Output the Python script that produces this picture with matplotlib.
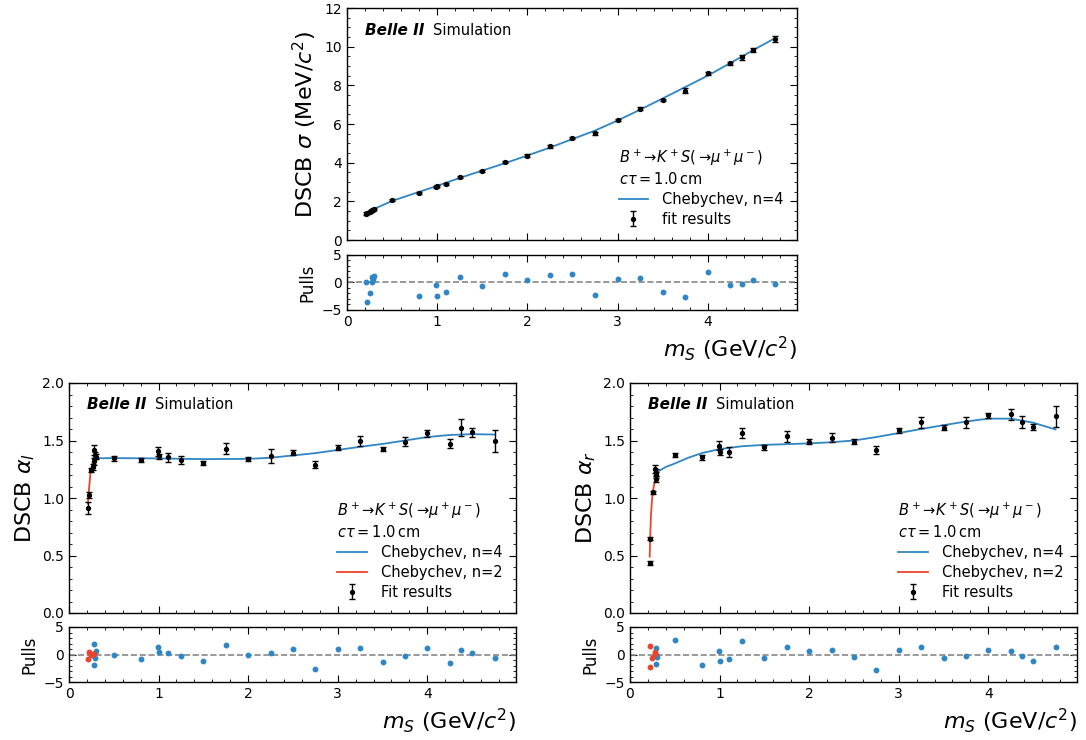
import matplotlib
matplotlib.use("Agg")
import matplotlib.pyplot as plt
from matplotlib.ticker import MultipleLocator

BLUE = "#2f86c4"
RED = "#e8442e"

# ---- DSCB sigma vs m_S ----
sig_m = [0.213, 0.22, 0.25, 0.27, 0.28, 0.29, 0.30, 0.50, 0.80, 0.99, 1.00, 1.10,
         1.25, 1.50, 1.75, 2.00, 2.25, 2.50, 2.75, 3.00, 3.25, 3.50, 3.75, 4.00,
         4.25, 4.375, 4.50, 4.75]
sig_v = [1.37, 1.39, 1.46, 1.51, 1.55, 1.57, 1.59, 2.06, 2.45, 2.74, 2.77, 2.92,
         3.25, 3.58, 4.02, 4.37, 4.84, 5.28, 5.53, 6.22, 6.80, 7.24, 7.72, 8.62,
         9.14, 9.46, 9.83, 10.40]
sig_e = [0.06, 0.05, 0.05, 0.05, 0.05, 0.05, 0.05, 0.05, 0.05, 0.05, 0.05, 0.05,
         0.05, 0.05, 0.05, 0.06, 0.06, 0.06, 0.08, 0.06, 0.06, 0.07, 0.12, 0.07,
         0.09, 0.13, 0.08, 0.15]
sig_fit_m = [0.21, 0.30, 0.50, 0.80, 1.00, 1.25, 1.50, 1.75, 2.00, 2.25, 2.50,
             2.75, 3.00, 3.25, 3.50, 3.75, 4.00, 4.25, 4.50, 4.75]
sig_fit_v = [1.40, 1.61, 2.02, 2.49, 2.80, 3.21, 3.59, 3.97, 4.37, 4.78, 5.22,
             5.66, 6.18, 6.74, 7.32, 7.91, 8.50, 9.15, 9.81, 10.45]
sig_pull_m = [0.213, 0.22, 0.25, 0.28, 0.28, 0.29, 0.30, 0.80, 0.99, 1.00, 1.10,
              1.25, 1.50, 1.75, 2.00, 2.25, 2.50, 2.75, 3.00, 3.25, 3.50, 3.75,
              4.00, 4.25, 4.375, 4.50, 4.75]
sig_pull = [0.0, -3.5, -2.0, 0.0, 1.05, 0.6, 1.1, -2.4, -0.5, -2.5, -1.8, 1.05,
            -0.6, 1.6, 0.5, 1.4, 1.6, -2.25, 0.55, 0.9, -1.7, -2.6, 1.9, -0.4,
            -0.2, 0.5, -0.2]

# ---- DSCB alpha_l vs m_S ----
al_m = [0.212, 0.22, 0.246, 0.27, 0.28, 0.28, 0.29, 0.30, 0.50, 0.80, 0.99, 1.00,
        1.10, 1.25, 1.50, 1.75, 2.00, 2.25, 2.50, 2.75, 3.00, 3.25, 3.50, 3.75,
        4.00, 4.25, 4.375, 4.50, 4.75]
al_v = [0.913, 1.023, 1.243, 1.27, 1.32, 1.42, 1.37, 1.36, 1.344, 1.327, 1.405,
        1.361, 1.353, 1.33, 1.303, 1.43, 1.34, 1.366, 1.395, 1.288, 1.439, 1.494,
        1.427, 1.488, 1.564, 1.471, 1.613, 1.57, 1.494]
al_e = [0.05, 0.025, 0.02, 0.03, 0.03, 0.045, 0.03, 0.025, 0.02, 0.017, 0.04,
        0.02, 0.04, 0.035, 0.02, 0.05, 0.02, 0.058, 0.02, 0.03, 0.02, 0.045, 0.02,
        0.04, 0.03, 0.04, 0.07, 0.04, 0.095]
al_fit4_m = [0.27, 0.50, 1.00, 1.50, 2.00, 2.25, 2.50, 2.75, 3.00, 3.25, 3.50,
             3.75, 4.00, 4.25, 4.50, 4.75]
al_fit4_v = [1.345, 1.347, 1.344, 1.338, 1.34, 1.35, 1.37, 1.39, 1.418, 1.445,
             1.47, 1.50, 1.53, 1.548, 1.555, 1.552]
al_fit2_m = [0.212, 0.22, 0.24, 0.25, 0.265, 0.28]
al_fit2_v = [0.95, 1.05, 1.22, 1.26, 1.31, 1.34]
al_pull2_m = [0.212, 0.22, 0.25, 0.27, 0.28]
al_pull2 = [-0.8, 0.37, -0.1, 0.05, 0.1]
al_pull4_m = [0.28, 0.28, 0.29, 0.30, 0.50, 0.80, 0.99, 1.00, 1.10, 1.25, 1.50,
              1.75, 2.00, 2.25, 2.50, 2.75, 3.00, 3.25, 3.50, 3.75, 4.00, 4.25,
              4.375, 4.50, 4.75]
al_pull4 = [1.9, -1.85, -0.6, 0.67, -0.1, -0.9, 1.4, 0.5, 0.2, -0.25, -1.2, 1.65,
            0.0, 0.3, 1.0, -2.6, 1.0, 1.15, -1.3, -0.25, 1.2, -1.5, 0.85, 0.25,
            -0.6]

# ---- DSCB alpha_r vs m_S ----
ar_m = [0.22, 0.228, 0.254, 0.28, 0.285, 0.29, 0.29, 0.50, 0.80, 0.99, 1.00,
        1.10, 1.25, 1.50, 1.75, 2.00, 2.25, 2.50, 2.75, 3.00, 3.25, 3.50, 3.75,
        4.00, 4.25, 4.375, 4.50, 4.75]
ar_v = [0.436, 0.647, 1.05, 1.25, 1.22, 1.20, 1.165, 1.373, 1.353, 1.454, 1.40,
        1.40, 1.565, 1.44, 1.535, 1.49, 1.523, 1.49, 1.42, 1.587, 1.657, 1.613,
        1.657, 1.718, 1.727, 1.663, 1.62, 1.709]
ar_e = [0.02, 0.012, 0.012, 0.035, 0.03, 0.03, 0.025, 0.02, 0.02, 0.04, 0.025,
        0.04, 0.04, 0.02, 0.05, 0.02, 0.04, 0.02, 0.035, 0.02, 0.045, 0.02, 0.045,
        0.02, 0.05, 0.05, 0.025, 0.09]
ar_fit4_m = [0.29, 0.40, 0.50, 0.65, 0.80, 1.00, 1.25, 1.50, 1.75, 2.00, 2.25,
             2.50, 2.75, 3.00, 3.25, 3.50, 3.75, 4.00, 4.25, 4.50, 4.75]
ar_fit4_v = [1.22, 1.27, 1.30, 1.35, 1.39, 1.425, 1.45, 1.462, 1.468, 1.475,
             1.485, 1.50, 1.53, 1.565, 1.60, 1.633, 1.665, 1.69, 1.69, 1.655, 1.596]
ar_fit2_m = [0.22, 0.225, 0.235, 0.245, 0.255, 0.265, 0.28]
ar_fit2_v = [0.49, 0.66, 0.86, 0.98, 1.05, 1.10, 1.15]
ar_pull2_m = [0.22, 0.22, 0.25, 0.28, 0.28]
ar_pull2 = [1.6, -2.2, -0.6, 0.37, 0.1]
ar_pull4_m = [0.29, 0.29, 0.30, 0.29, 0.50, 0.80, 0.99, 1.00, 1.10, 1.25, 1.50,
              1.75, 2.00, 2.25, 2.50, 2.75, 3.00, 3.25, 3.50, 3.75, 4.00, 4.25,
              4.375, 4.50, 4.75]
ar_pull4 = [1.15, -1.7, -0.4, -0.1, 2.7, -1.85, 0.67, -1.1, -0.8, 2.45, -0.7,
            1.35, 0.55, 0.9, -0.5, -2.9, 0.85, 1.35, -0.7, -0.2, 0.85, 0.6, -0.25,
            -1.2, 1.35]

DECAY = r"$B^+\!\rightarrow\! K^+S(\rightarrow\! \mu^+\mu^-)$" + "\n" + r"$c\tau = 1.0\,\mathrm{cm}$"

plt.rcParams.update({
    "font.family": "DejaVu Sans",
    "xtick.direction": "in", "ytick.direction": "in",
    "xtick.top": True, "ytick.right": True,
    "xtick.major.size": 5, "ytick.major.size": 5,
    "xtick.minor.size": 2.5, "ytick.minor.size": 2.5,
    "xtick.labelsize": 10, "ytick.labelsize": 10,
    "axes.linewidth": 1.0,
})

fig = plt.figure(figsize=(10.86, 7.40), dpi=100)
W, H = 1086, 740


def add_ax(left, top, right, bottom):
    return fig.add_axes([left / W, 1 - bottom / H, (right - left) / W, (bottom - top) / H])


def style_x(ax):
    ax.set_xlim(0, 4.99)
    ax.xaxis.set_major_locator(MultipleLocator(1))
    ax.xaxis.set_minor_locator(MultipleLocator(0.2))


def draw_panel(ax, axp, ylabel, m, v, e, fits, pulls, pt_label, ymax, ymaj, ymin):
    for fm, fv, col, lab in fits:
        ax.plot(fm, fv, color=col, lw=1.3, label=lab)
    ax.errorbar(m, v, yerr=e, fmt="o", ms=2.8, color="black", ecolor="black",
                elinewidth=1.0, capsize=2.5, capthick=1.0, label=pt_label, zorder=3)
    style_x(ax)
    ax.tick_params(labelbottom=False)
    ax.set_ylim(0, ymax)
    ax.yaxis.set_major_locator(MultipleLocator(ymaj))
    ax.yaxis.set_minor_locator(MultipleLocator(ymin))
    ax.set_ylabel(ylabel, fontsize=16)
    belle = ax.text(0.04, 0.905, "Belle II", transform=ax.transAxes, fontsize=11,
                    fontweight="bold", fontstyle="italic", va="center")
    ax.annotate("Simulation", xy=(1, 0.5), xycoords=belle, xytext=(6, 0),
                textcoords="offset points", fontsize=10.5, va="center")
    ax.legend(loc="lower right", frameon=False, fontsize=10.5, title=DECAY,
              title_fontsize=10.5, alignment="left", labelspacing=0.35,
              handletextpad=1.0)

    for pm, pv, col in pulls:
        axp.plot(pm, pv, "o", ms=3.2, color=col, zorder=3)
    axp.axhline(0, color="#888888", ls="--", lw=1.2)
    style_x(axp)
    axp.set_ylim(-5, 5)
    axp.yaxis.set_major_locator(MultipleLocator(5))
    axp.yaxis.set_minor_locator(MultipleLocator(1))
    axp.set_ylabel("Pulls", fontsize=12)
    axp.set_xlabel(r"$m_S$ (GeV/$c^2$)", fontsize=16, loc="right")


# top: sigma
ax1 = add_ax(347, 8, 797, 240)
ax1p = add_ax(347, 255, 797, 310)
draw_panel(ax1, ax1p, r"DSCB $\sigma$ (MeV/$c^2$)", sig_m, sig_v, sig_e,
           [(sig_fit_m, sig_fit_v, BLUE, "Chebychev, n=4")],
           [(sig_pull_m, sig_pull, BLUE)], "fit results", 12, 2, 0.5)

# bottom left: alpha_l
ax2 = add_ax(69, 383, 516, 613)
ax2p = add_ax(69, 627, 516, 682)
draw_panel(ax2, ax2p, r"DSCB $\alpha_l$", al_m, al_v, al_e,
           [(al_fit4_m, al_fit4_v, BLUE, "Chebychev, n=4"),
            (al_fit2_m, al_fit2_v, RED, "Chebychev, n=2")],
           [(al_pull4_m, al_pull4, BLUE), (al_pull2_m, al_pull2, RED)],
           "Fit results", 2.0, 0.5, 0.1)

# bottom right: alpha_r
ax3 = add_ax(630, 383, 1077, 613)
ax3p = add_ax(630, 627, 1077, 682)
draw_panel(ax3, ax3p, r"DSCB $\alpha_r$", ar_m, ar_v, ar_e,
           [(ar_fit4_m, ar_fit4_v, BLUE, "Chebychev, n=4"),
            (ar_fit2_m, ar_fit2_v, RED, "Chebychev, n=2")],
           [(ar_pull4_m, ar_pull4, BLUE), (ar_pull2_m, ar_pull2, RED)],
           "Fit results", 2.0, 0.5, 0.1)

fig.savefig("out.png", dpi=100)
